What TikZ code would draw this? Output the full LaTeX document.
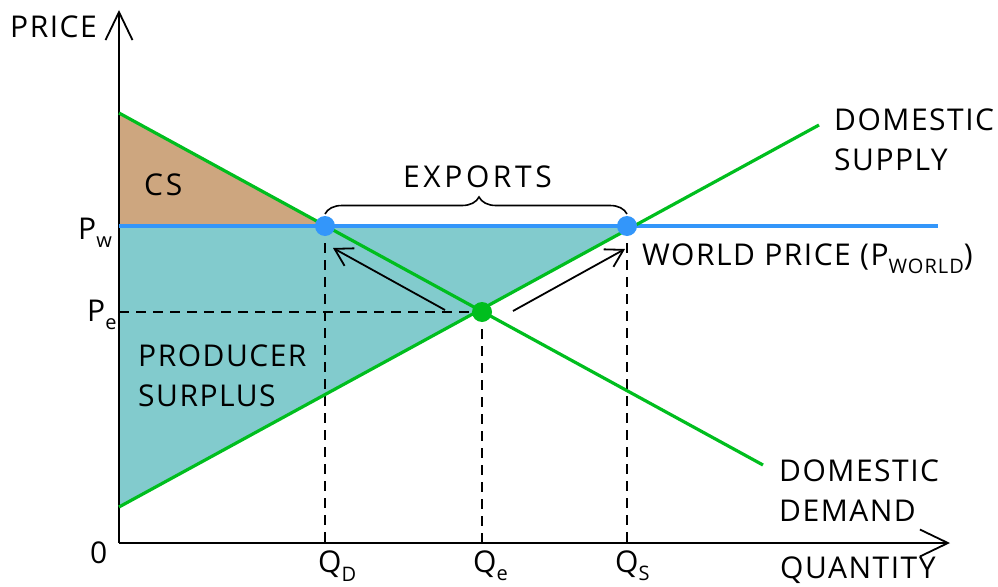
\documentclass[tikz,border=0pt]{standalone}
\usepackage{fontspec}
\setmainfont[LetterSpace=5]{Open Sans}
\usetikzlibrary{positioning}
\usetikzlibrary{arrows.meta}
\usetikzlibrary{decorations.pathreplacing}
\definecolor{curvegreen}{RGB}{0,190,30}
\definecolor{worldblue}{RGB}{51,150,250}
\definecolor{csbrown}{RGB}{205,166,127}
\definecolor{psteal}{RGB}{130,203,205}
\newcommand{\lowtext}[1]{\raisebox{-0.28em}{\fontsize{20}{24}\selectfont #1}}

\begin{document}
\begin{tikzpicture}[x=1pt, y=-1pt,
    lbl/.style={inner sep=0pt, anchor=west, font=\fontsize{30}{36}\selectfont},
    axisline/.style={line width=1.8pt, -{Straight Barb[length=28pt, width=27pt, line width=1.8pt]}},
    curve/.style={line width=3.2pt, curvegreen},
    guide/.style={line width=1.6pt, dash pattern=on 10pt off 7pt},
    shift arrow/.style={line width=1.8pt, -{Straight Barb[length=17pt, width=20pt, line width=1.8pt]}},
    dot/.style={circle, inner sep=0pt, minimum size=19pt}]
    \useasboundingbox (0,0) rectangle (998,586);

    \coordinate (origin) at (119,543);
    \coordinate (ytop) at (119,10);
    \coordinate (xend) at (950,543);
    \coordinate (demtop) at (119,113);
    \coordinate (demend) at (763,465);
    \coordinate (suplow) at (119,507);
    \coordinate (supend) at (819,125);
    \coordinate (pw) at (119,226);
    \coordinate (pe) at (119,312);
    \coordinate (pwend) at (938,226);
    \coordinate (qd) at (325,543);
    \coordinate (qe) at (482,543);
    \coordinate (qs) at (627,543);
    \coordinate (braceleft) at (325,214);
    \coordinate (braceright) at (627,214);

    % surplus areas
    \fill[csbrown] (demtop) -- (325,226) -- (pw) -- cycle;
    \fill[psteal] (pw) -- (634,226) -- (suplow) -- cycle;

    % points
    \node[dot] (dpoint) at (325,226) {};
    \node[dot] (spoint) at (627,226) {};
    \node[dot] (epoint) at (482,312) {};

    % dashed guides
    \draw[guide] (dpoint.center) -- (qd);
    \draw[guide] (epoint.center) -- (qe);
    \draw[guide] (spoint.center) -- (qs);
    \draw[guide] (pe) -- (epoint.center);

    % axes
    \draw[axisline] (origin) -- (ytop);
    \draw[axisline] (origin) -- (xend);

    % curves
    \draw[line width=3.5pt, worldblue] (pw) -- (pwend);
    \draw[curve] (demtop) -- (demend);
    \draw[curve] (suplow) -- (supend);
    \fill[worldblue] (dpoint) circle (10pt);
    \fill[worldblue] (spoint) circle (10pt);
    \fill[curvegreen] (epoint) circle (10pt);

    % shifts
    \coordinate (leftstart) at (445,310);
    \coordinate (leftend) at (333,248);
    \coordinate (rightstart) at (513,311);
    \coordinate (rightend) at (625,249);
    \draw[shift arrow] (leftstart) -- (leftend);
    \draw[shift arrow] (rightstart) -- (rightend);

    % exports brace
    \draw[line width=1.6pt, decorate, decoration={brace, amplitude=17pt, aspect=0.51}] (braceleft) -- (braceright);

    % labels
    \node[lbl] (price) at (10,27) {PRICE};
    \node[lbl] (cs) at (144,185) {\addfontfeature{LetterSpace=9}CS};
    \node[lbl] (exports) at (403,177) {\addfontfeature{LetterSpace=12}EXPORTS};
    \node[lbl] (producer) at (138,356) {PRODUCER};
    \node[lbl] (surplus) at (138,396) {SURPLUS};
    \node[lbl] (domsupply) at (834,120) {DOMESTIC};
    \node[lbl] (supply) at (834,160) {SUPPLY};
    \node[lbl] (world) at (642,259) {WORLD PRICE (P\lowtext{WORLD})};
    \node[lbl] (domdemand) at (779,471) {DOMESTIC};
    \node[lbl] (demand) at (779,511) {DEMAND};
    \node[lbl] (quantity) at (780,570) {QUANTITY};
    \node[lbl] (zero) at (90,553) {0};
    \node[lbl] (pwlabel) at (78,233) {P\lowtext{w}};
    \node[lbl] (pelabel) at (87,315) {P\lowtext{e}};
    \node[lbl] (qdlabel) at (318,566) {Q\lowtext{D}};
    \node[lbl] (qelabel) at (473,566) {Q\lowtext{e}};
    \node[lbl] (qslabel) at (615,566) {Q\lowtext{S}};
\end{tikzpicture}
\end{document}
